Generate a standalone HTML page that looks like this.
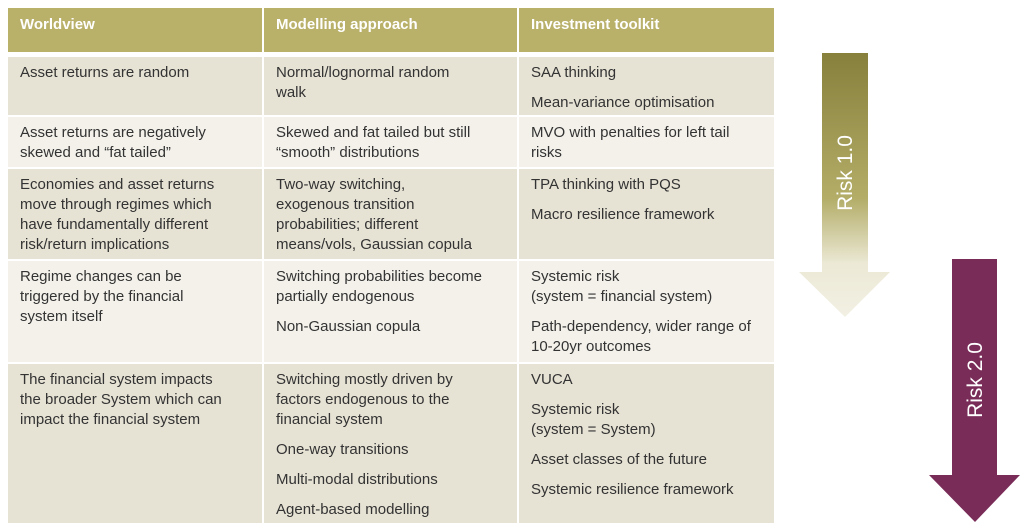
<!DOCTYPE html>
<html><head><meta charset="utf-8"><style>
body{margin:0;width:1024px;height:531px;background:#fff;position:relative;overflow:hidden;font-family:"Liberation Sans",Arial,sans-serif;}
.c{position:absolute;box-sizing:border-box;padding:6px 10px 0 12px;font-size:15px;line-height:20px;color:#333;}
.c1{padding-right:37px}
.c2{padding-right:35px}
.c3{padding-right:11px}
.h{background:#b9b06a;color:#fff;font-weight:bold;padding-top:7px;}
.d{background:#e6e2d4;}
.l{background:#f3f1ea;}
p{margin:0 0 10px 0;}
</style></head><body>
<div class="c h" style="left:8px;top:8px;width:254px;height:44px">Worldview</div>
<div class="c h" style="left:264px;top:8px;width:253px;height:44px">Modelling approach</div>
<div class="c h" style="left:519px;top:8px;width:255px;height:44px">Investment toolkit</div>

<div class="c d c1" style="left:8px;top:57px;width:254px;height:58px"><p>Asset returns are random</p></div>
<div class="c d c2" style="left:264px;top:57px;width:253px;height:58px"><p>Normal/lognormal random walk</p></div>
<div class="c d c3" style="left:519px;top:57px;width:255px;height:58px"><p>SAA thinking</p><p>Mean-variance optimisation</p></div>

<div class="c l c1" style="left:8px;top:117px;width:254px;height:50px"><p>Asset returns are negatively skewed and “fat tailed”</p></div>
<div class="c l c2" style="left:264px;top:117px;width:253px;height:50px"><p>Skewed and fat tailed but still “smooth” distributions</p></div>
<div class="c l c3" style="left:519px;top:117px;width:255px;height:50px"><p>MVO with penalties for left tail risks</p></div>

<div class="c d c1" style="left:8px;top:169px;width:254px;height:90px"><p>Economies and asset returns move through regimes which have fundamentally different risk/return implications</p></div>
<div class="c d c2" style="left:264px;top:169px;width:253px;height:90px"><p>Two-way switching, exogenous transition probabilities; different means/vols, Gaussian copula</p></div>
<div class="c d c3" style="left:519px;top:169px;width:255px;height:90px"><p>TPA thinking with PQS</p><p>Macro resilience framework</p></div>

<div class="c l c1" style="left:8px;top:261px;width:254px;height:101px"><p>Regime changes can be triggered by the financial system itself</p></div>
<div class="c l c2" style="left:264px;top:261px;width:253px;height:101px"><p>Switching probabilities become partially endogenous</p><p>Non-Gaussian copula</p></div>
<div class="c l c3" style="left:519px;top:261px;width:255px;height:101px"><p>Systemic risk<br>(system = financial system)</p><p>Path-dependency, wider range of 10-20yr outcomes</p></div>

<div class="c d c1" style="left:8px;top:364px;width:254px;height:159px"><p>The financial system impacts<br>the broader System which can<br>impact the financial system</p></div>
<div class="c d c2" style="left:264px;top:364px;width:253px;height:159px"><p>Switching mostly driven by factors endogenous to the financial system</p><p>One-way transitions</p><p>Multi-modal distributions</p><p>Agent-based modelling</p></div>
<div class="c d c3" style="left:519px;top:364px;width:255px;height:159px"><p>VUCA</p><p>Systemic risk<br>(system = System)</p><p>Asset classes of the future</p><p>Systemic resilience framework</p></div>

<svg style="position:absolute;left:0;top:0" width="1024" height="531">
<defs><linearGradient id="g1" x1="0" y1="53" x2="0" y2="317" gradientUnits="userSpaceOnUse">
<stop offset="0" stop-color="#86803c"/><stop offset="0.55" stop-color="#b3ad68"/><stop offset="0.8" stop-color="#ece9d6"/><stop offset="1" stop-color="#f2f0e3"/></linearGradient></defs>
<polygon points="822,53 868,53 868,272 890,272 845,317 799,272 822,272" fill="url(#g1)"/>
<polygon points="952,259 997,259 997,475 1020,475 975,522 929,475 952,475" fill="#7a2c58"/>
<text x="0" y="0" transform="translate(852,173) rotate(-90)" text-anchor="middle" fill="#fff" font-size="21" font-family="Liberation Sans,Arial,sans-serif">Risk 1.0</text>
<text x="0" y="0" transform="translate(982,380) rotate(-90)" text-anchor="middle" fill="#fff" font-size="21" font-family="Liberation Sans,Arial,sans-serif">Risk 2.0</text>
</svg>
</body></html>
